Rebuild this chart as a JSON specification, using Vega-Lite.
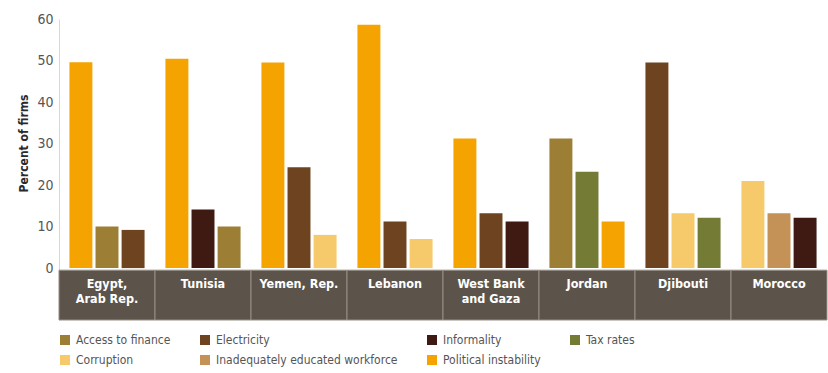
{
  "$schema": "https://vega.github.io/schema/vega-lite/v6.json",
  "autosize": {"type": "none"},
  "padding": {"left": 59, "top": 19, "right": 1, "bottom": 53},
  "width": 768,
  "height": 301,
  "config": {
    "view": {"stroke": null},
    "font": "Liberation Sans Narrow, DejaVu Sans Condensed, sans-serif"
  },
  "datasets": {
    "countries": [
      {"country": "Egypt,\nArab Rep."},
      {"country": "Tunisia"},
      {"country": "Yemen, Rep."},
      {"country": "Lebanon"},
      {"country": "West Bank\nand Gaza"},
      {"country": "Jordan"},
      {"country": "Djibouti"},
      {"country": "Morocco"}
    ],
    "obstacles": [
      {"country": "Egypt,\nArab Rep.", "category": "Political instability", "value": 49.6},
      {"country": "Egypt,\nArab Rep.", "category": "Access to finance", "value": 10},
      {"country": "Egypt,\nArab Rep.", "category": "Electricity", "value": 9.2},
      {"country": "Tunisia", "category": "Political instability", "value": 50.4},
      {"country": "Tunisia", "category": "Informality", "value": 14.1},
      {"country": "Tunisia", "category": "Access to finance", "value": 10},
      {"country": "Yemen, Rep.", "category": "Political instability", "value": 49.5},
      {"country": "Yemen, Rep.", "category": "Electricity", "value": 24.3},
      {"country": "Yemen, Rep.", "category": "Corruption", "value": 8},
      {"country": "Lebanon", "category": "Political instability", "value": 58.6},
      {"country": "Lebanon", "category": "Electricity", "value": 11.2},
      {"country": "Lebanon", "category": "Corruption", "value": 7},
      {"country": "West Bank\nand Gaza", "category": "Political instability", "value": 31.2},
      {"country": "West Bank\nand Gaza", "category": "Electricity", "value": 13.2},
      {"country": "West Bank\nand Gaza", "category": "Informality", "value": 11.2},
      {"country": "Jordan", "category": "Access to finance", "value": 31.2},
      {"country": "Jordan", "category": "Tax rates", "value": 23.2},
      {"country": "Jordan", "category": "Political instability", "value": 11.2},
      {"country": "Djibouti", "category": "Electricity", "value": 49.5},
      {"country": "Djibouti", "category": "Corruption", "value": 13.2},
      {"country": "Djibouti", "category": "Tax rates", "value": 12.1},
      {"country": "Morocco", "category": "Corruption", "value": 21},
      {"country": "Morocco", "category": "Inadequately educated workforce", "value": 13.2},
      {"country": "Morocco", "category": "Informality", "value": 12.1}
    ]
  },
  "encoding": {
    "x": {
      "field": "country",
      "type": "nominal",
      "sort": ["Egypt,\nArab Rep.", "Tunisia", "Yemen, Rep.", "Lebanon", "West Bank\nand Gaza", "Jordan", "Djibouti", "Morocco"],
      "scale": {"paddingInner": 0, "paddingOuter": 0},
      "axis": null
    }
  },
  "layer": [
    {
      "data": {"name": "countries"},
      "mark": {"type": "rect", "fill": "#5c544b", "stroke": "#968d83", "strokeWidth": 1},
      "encoding": {
        "y": {"datum": -0.5, "type": "quantitative", "scale": {"domain": [-12.5, 60], "nice": false}},
        "y2": {"datum": -12.5}
      }
    },
    {
      "data": {"name": "obstacles"},
      "transform": [
        {"window": [{"op": "row_number", "as": "rank"}], "groupby": ["country"], "sort": [{"field": "value", "order": "descending"}]}
      ],
      "mark": {"type": "bar"},
      "encoding": {
        "xOffset": {"field": "rank", "type": "ordinal", "scale": {"paddingInner": 0.12, "paddingOuter": 0.4}},
        "y": {
          "field": "value",
          "type": "quantitative",
          "scale": {"domain": [-12.5, 60], "nice": false},
          "axis": {
            "values": [0, 10, 20, 30, 40, 50, 60],
            "domainColor": "#d8d8d8",
            "ticks": false,
            "grid": false,
            "labelPadding": 6,
            "labelColor": "#555555",
            "labelFontSize": 14,
            "title": "Percent of firms",
            "titleFontSize": 12,
            "titleFontWeight": "bold",
            "titleColor": "#2a2a2a",
            "titleX": -36,
            "titleY": 124,
            "titleAlign": "center",
            "titleBaseline": "middle"
          }
        },
        "color": {
          "field": "category",
          "type": "nominal",
          "scale": {
            "domain": ["Access to finance", "Electricity", "Informality", "Tax rates", "Corruption", "Inadequately educated workforce", "Political instability"],
            "range": ["#9c7f35", "#6e4420", "#3e1a12", "#737b35", "#f6c96a", "#c49257", "#f5a300"]
          },
          "legend": {
            "title": null,
            "orient": "bottom",
            "offset": 14,
            "columns": 4,
            "symbolType": "square",
            "symbolSize": 100,
            "symbolStrokeWidth": 0,
            "symbolOpacity": 1,
            "labelFontSize": 12,
            "labelLimit": 0,
            "labelColor": "#555555",
            "labelOffset": 5,
            "columnPadding": 28,
            "rowPadding": 8
          }
        }
      }
    },
    {
      "data": {"name": "countries"},
      "mark": {"type": "text", "color": "#ffffff", "fontWeight": "bold", "fontSize": 12.5, "baseline": "top", "lineBreak": "\n", "lineHeight": 15},
      "encoding": {
        "y": {"datum": -2.4, "type": "quantitative"},
        "text": {"field": "country"}
      }
    }
  ]
}
